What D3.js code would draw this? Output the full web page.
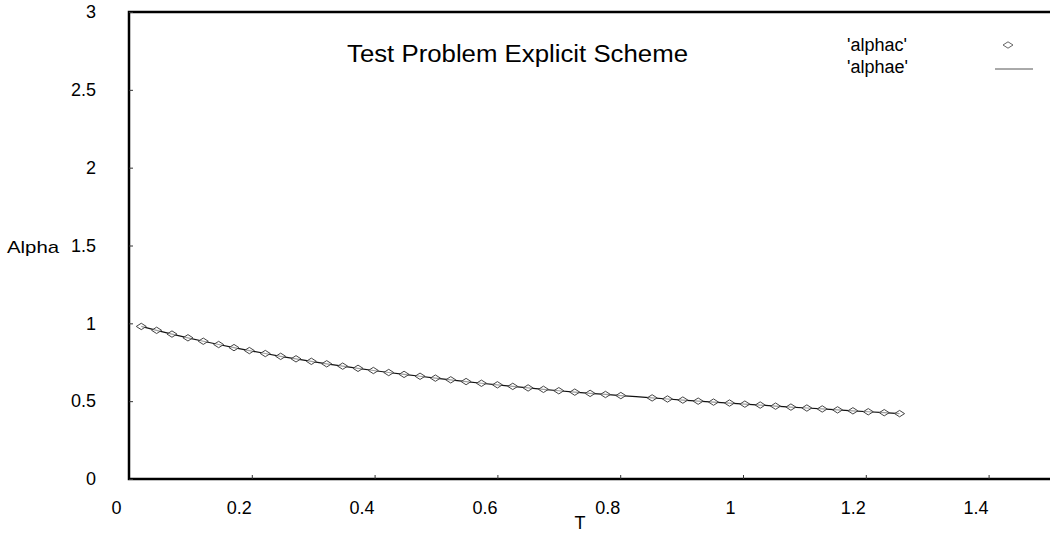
<!DOCTYPE html>
<html>
<head>
<meta charset="utf-8">
<script src="https://cdn.jsdelivr.net/npm/d3@7"></script>
<style>
  html, body { margin: 0; padding: 0; background: #fff; }
  svg { display: block; font-family: 'Liberation Sans', Arial, sans-serif; }
</style>
</head>
<body>
<svg id="chart" width="1050" height="541"></svg>
<script>
// T values (x)
const tValues = [
  0.020, 0.045, 0.070, 0.096, 0.121, 0.146, 0.171, 0.196, 0.222, 0.247,
  0.272, 0.297, 0.322, 0.348, 0.373, 0.398, 0.423, 0.448, 0.474, 0.499,
  0.524, 0.549, 0.574, 0.600, 0.625, 0.650, 0.675, 0.700, 0.726, 0.751,
  0.776, 0.801, 0.826, 0.852, 0.877, 0.902, 0.927, 0.952, 0.978, 1.003,
  1.028, 1.053, 1.078, 1.104, 1.129, 1.154, 1.179, 1.204, 1.230, 1.255
];

// 'alphae' line values
const alphae = [
  0.980, 0.955, 0.931, 0.907, 0.885, 0.864, 0.844, 0.825, 0.806, 0.788,
  0.772, 0.756, 0.740, 0.725, 0.711, 0.697, 0.684, 0.672, 0.660, 0.648,
  0.637, 0.626, 0.615, 0.605, 0.595, 0.585, 0.576, 0.567, 0.558, 0.550,
  0.543, 0.536, 0.529, 0.521, 0.514, 0.507, 0.500, 0.494, 0.488, 0.481,
  0.475, 0.468, 0.462, 0.456, 0.450, 0.444, 0.438, 0.432, 0.426, 0.420
];

// 'alphac' point values (one marker is missing in the scan)
const alphac = [
  0.980, 0.955, 0.931, 0.907, 0.885, 0.864, 0.844, 0.825, 0.806, 0.788,
  0.772, 0.756, 0.740, 0.725, 0.711, 0.697, 0.684, 0.672, 0.660, 0.648,
  0.637, 0.626, 0.615, 0.605, 0.595, 0.585, 0.576, 0.567, 0.558, 0.550,
  0.543, 0.536, null, 0.521, 0.514, 0.507, 0.500, 0.494, 0.488, 0.481,
  0.475, 0.468, 0.462, 0.456, 0.450, 0.444, 0.438, 0.432, 0.426, 0.420
];

const xTicks = [0, 0.2, 0.4, 0.6, 0.8, 1, 1.2, 1.4];
const yTicks = [0, 0.5, 1, 1.5, 2, 2.5, 3];
const seriesNames = ["'alphac'", "'alphae'"];

const svg = d3.select('#chart');
const margin = { top: 12, right: 0, bottom: 62, left: 129 };
const width = 1050 - margin.left - margin.right;
const height = 541 - margin.top - margin.bottom;

const x = d3.scaleLinear().domain([0, 1.5]).range([0, width]);
const y = d3.scaleLinear().domain([0, 3]).range([height, 0]);

const g = svg.append('g').attr('transform', `translate(${margin.left},${margin.top})`);

// Frame (top, left, bottom)
g.append('path')
  .attr('d', `M${width},0H0V${height}H${width}`)
  .attr('fill', 'none')
  .attr('stroke', '#000')
  .attr('stroke-width', 2.5);

// X axis: inner ticks, labels sit a little left of the ticks as in the scan
const xAxis = g.append('g')
  .attr('transform', `translate(0,${height})`)
  .call(d3.axisBottom(x).tickValues(xTicks).tickSizeInner(-4).tickSizeOuter(0).tickPadding(22)
    .tickFormat(d3.format('')));
xAxis.select('.domain').remove();
xAxis.selectAll('.tick line').attr('stroke', '#333');
xAxis.selectAll('.tick').filter((d) => d === 0).select('line').remove();
xAxis.selectAll('.tick text')
  .attr('dx', -13)
  .attr('font-size', 18)
  .attr('font-family', "'Liberation Sans', Arial, sans-serif")
  .attr('fill', '#000');

// Y axis
const yAxis = g.append('g')
  .call(d3.axisLeft(y).tickValues(yTicks).tickSizeInner(-4).tickSizeOuter(0).tickPadding(33)
    .tickFormat(d3.format('')));
yAxis.select('.domain').remove();
yAxis.selectAll('.tick line').attr('stroke', '#333');
yAxis.selectAll('.tick text')
  .attr('font-size', 18)
  .attr('font-family', "'Liberation Sans', Arial, sans-serif")
  .attr('fill', '#000');

// Axis titles
svg.append('text')
  .attr('x', 580)
  .attr('y', 529)
  .attr('text-anchor', 'middle')
  .attr('font-size', 18)
  .text('T');

svg.append('text')
  .attr('x', 7)
  .attr('y', 253)
  .attr('font-size', 17)
  .attr('textLength', 52)
  .attr('lengthAdjust', 'spacingAndGlyphs')
  .text('Alpha');

// Title
svg.append('text')
  .attr('x', 347)
  .attr('y', 62)
  .attr('font-size', 23)
  .attr('textLength', 341)
  .attr('lengthAdjust', 'spacingAndGlyphs')
  .text('Test Problem Explicit Scheme');

// Line series
const lineData = tValues.map((t, i) => ({ t, a: alphae[i] }));
g.append('path')
  .datum(lineData)
  .attr('fill', 'none')
  .attr('stroke', '#111')
  .attr('stroke-width', 1.2)
  .attr('d', d3.line().x((d) => x(d.t)).y((d) => y(d.a)));

// Diamond markers
const diamond = 'M-5,0L0,-3.2L5,0L0,3.2Z';
const pointData = tValues.map((t, i) => ({ t, a: alphac[i] })).filter((d) => d.a !== null);
g.selectAll('.pt')
  .data(pointData)
  .join('path')
  .attr('class', 'pt')
  .attr('transform', (d) => `translate(${x(d.t)},${y(d.a)})`)
  .attr('d', diamond)
  .attr('fill', '#fff')
  .attr('fill-opacity', 0.6)
  .attr('stroke', '#444')
  .attr('stroke-width', 1);

// Legend
const legend = svg.append('g').attr('transform', 'translate(847,0)');
legend.selectAll('text')
  .data(seriesNames)
  .join('text')
  .attr('x', 0)
  .attr('y', (d, i) => 51 + i * 22)
  .attr('font-size', 18)
  .text((d) => d);

legend.append('path')
  .attr('transform', 'translate(161,45)')
  .attr('d', diamond)
  .attr('fill', '#fff')
  .attr('stroke', '#666')
  .attr('stroke-width', 1);

legend.append('line')
  .attr('x1', 148)
  .attr('x2', 186)
  .attr('y1', 69)
  .attr('y2', 69)
  .attr('stroke', '#555')
  .attr('stroke-width', 1);
</script>
</body>
</html>
